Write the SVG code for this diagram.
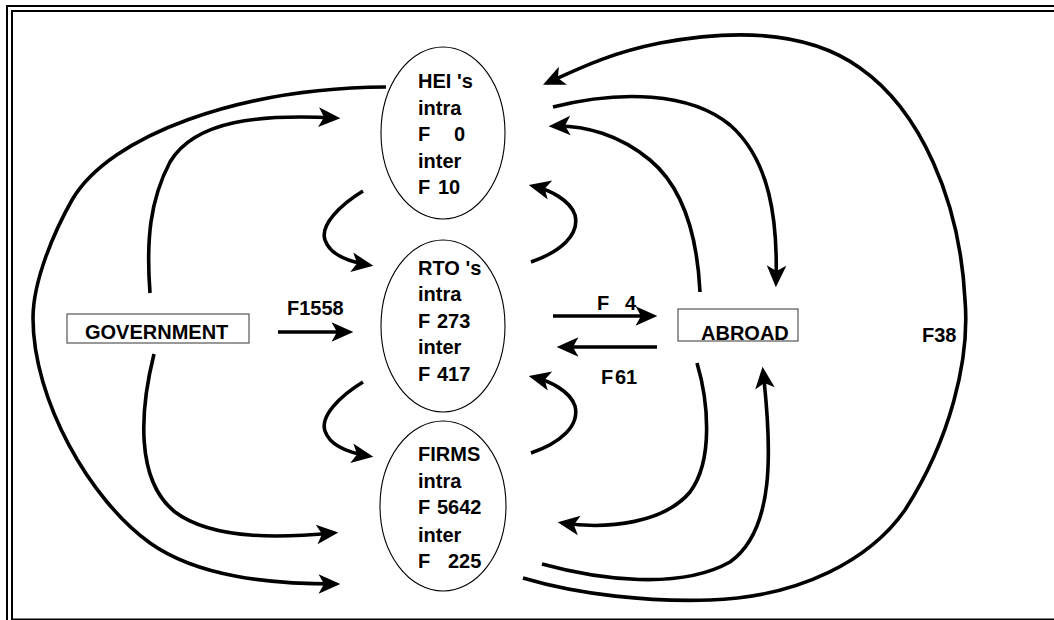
<svg xmlns="http://www.w3.org/2000/svg" width="1054" height="620" viewBox="0 0 1054 620">
<style>
.t{font-family:"Liberation Sans",Arial,sans-serif;font-weight:bold;font-size:20px;fill:#000}
.e{fill:#fff;stroke:#000;stroke-width:1.1}
.b{fill:#fff;stroke:#555;stroke-width:1.2}
.c{fill:none;stroke:#000;stroke-width:3.6;marker-end:url(#ah)}
.f{fill:none;stroke:#000;stroke-width:2}
</style>
<defs>
<marker id="ah" markerUnits="userSpaceOnUse" markerWidth="24" markerHeight="22" viewBox="0 0 22 20" refX="17" refY="10" orient="auto">
<path d="M21,10 L1,1 L6,10 L1,19 Z" fill="#000"/>
</marker>
</defs>
<rect width="1054" height="620" fill="#fff"/>
<g id="frame">
<rect class="f" x="7" y="6" width="1100" height="700"/>
<rect class="f" x="12" y="11" width="1100" height="608.5"/>
</g>
<g id="connectors">
<path class="c" d="M386,87 C240,88 110,135 72,200 C55,230 33,280 33,318 C33,400 90,500 150,543 C198,577 270,584 336,584"/>
<path class="c" d="M150,293 C146,240 150,200 170,162 C195,120 260,114 336,118"/>
<path class="c" d="M154,354 C140,410 135,480 175,512 C215,542 290,537 334,533"/>
<path class="c" d="M523,578 C580,595 650,602 710,600 C800,597 870,560 905,510 C950,440 970,360 965,300 C960,200 920,110 860,68 C810,32 740,28 660,43 C610,53 580,68 547,83"/>
<path class="c" d="M553,107 C620,90 690,92 730,125 C770,160 778,220 776,283"/>
<path class="c" d="M700,292 C697,230 680,185 650,160 C620,135 585,125 553,126"/>
<path class="c" d="M697,363 C708,400 714,460 690,492 C665,522 610,530 562,523"/>
<path class="c" d="M542,564 C600,580 680,590 730,562 C775,530 772,450 763,371"/>
<path class="c" d="M363,191 C340,205 320,225 325,240 C330,255 350,262 369,265"/>
<path class="c" d="M531,262 C560,252 580,235 575,215 C570,200 550,190 533,186"/>
<path class="c" d="M363,382 C340,396 320,416 325,431 C330,446 350,453 369,456"/>
<path class="c" d="M531,453 C560,443 580,426 575,406 C570,391 550,381 533,377"/>
<path class="c" d="M278,332 L349,332"/>
<path class="c" d="M553,316 L653,316"/>
<path class="c" d="M657,347 L561,347"/>
</g>
<g id="labels">
<text class="t" x="287" y="315">F1558</text>
<text class="t" x="597" y="310">F<tspan x="625">4</tspan></text>
<text class="t" x="601" y="384">F<tspan x="615">61</tspan></text>
<text class="t" x="922" y="342">F38</text>
</g>
<g id="hei">
<ellipse class="e" cx="443" cy="133" rx="62" ry="86"/>
<text class="t" x="418" y="88">HEI 's</text>
<text class="t" x="418" y="115">intra</text>
<text class="t" x="418" y="141">F<tspan x="454">0</tspan></text>
<text class="t" x="418" y="168">inter</text>
<text class="t" x="418" y="194">F<tspan x="438">10</tspan></text>
</g>
<g id="rto">
<ellipse class="e" cx="443" cy="326" rx="62" ry="86"/>
<text class="t" x="418" y="275">RTO 's</text>
<text class="t" x="418" y="301">intra</text>
<text class="t" x="418" y="328">F<tspan x="437">273</tspan></text>
<text class="t" x="418" y="354">inter</text>
<text class="t" x="418" y="381">F<tspan x="437">417</tspan></text>
</g>
<g id="firms">
<ellipse class="e" cx="443" cy="506" rx="63" ry="85"/>
<text class="t" x="418" y="461">FIRMS</text>
<text class="t" x="418" y="488">intra</text>
<text class="t" x="418" y="514">F<tspan x="437">5642</tspan></text>
<text class="t" x="418" y="542">inter</text>
<text class="t" x="418" y="568">F<tspan x="448">225</tspan></text>
</g>
<g id="government">
<rect class="b" x="67" y="314" width="182" height="29"/>
<text class="t" x="85" y="339">GOVERNMENT</text>
</g>
<g id="abroad">
<rect class="b" x="678" y="309" width="120" height="32"/>
<text class="t" x="701" y="340">ABROAD</text>
</g>
</svg>
